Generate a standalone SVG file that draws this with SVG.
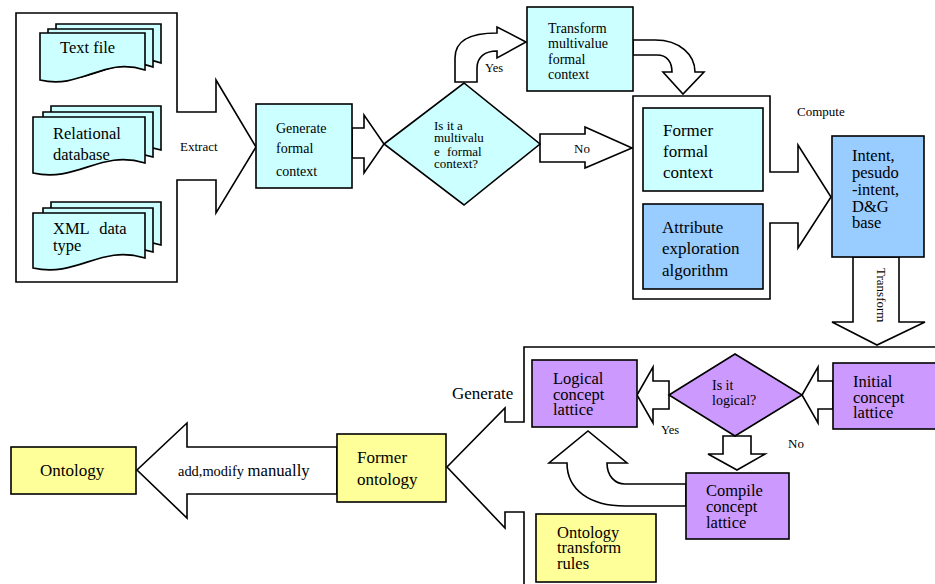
<svg xmlns="http://www.w3.org/2000/svg" width="935" height="584" viewBox="0 0 935 584">
<style>
.s{stroke:#000;stroke-width:1.6;stroke-linejoin:miter}
.w{fill:#fff}
.c1{fill:#CCFFFF}
.c2{fill:#99CCFF}
.c3{fill:#CC99FF}
.c4{fill:#FFFF99}
text{fill:#000}
.f17{font-size:17px}
.f16{font-size:16.5px}
.f14{font-size:14px}
.f13{font-size:13px}
.f12{font-size:12.5px}
</style>
<rect x="0" y="0" width="935" height="584" fill="#fff"/>
<g font-family="'Liberation Serif', 'DejaVu Serif', 'Times New Roman', serif">
<g id="connectors">
  <polygon class="s w" points="16,13 177,13 177,112 216,112 216,80 256,147 216,213 216,180 177,180 177,282 16,282"/>
  <text class="f13" x="180" y="151">Extract</text>
  <polygon class="s w" points="352,128 364,128 364,115 384,144 364,173 364,158 352,158"/>
  <polygon class="s w" points="540,134 585,134 585,127 632,148 585,168 585,162 540,162"/>
  <text class="f13" x="574" y="153">No</text>
  <path class="s w" d="M455,82 L455,58 C455,40 470,33 497,33 L497,27 L526,42 L497,58 L497,51 C485,51 477,57 477,68 L477,82 Z"/>
  <text class="f12" x="485" y="72">Yes</text>
  <path class="s w" d="M633,40 L655,40 C680,40 695,55 695,72 L704,72 L683,94 L663,72 L672,72 C672,62 667,55 657,55 L633,55 Z"/>
  <polygon class="s w" points="633,96 770,96 770,172 798,172 798,145 831,197 798,248 798,223 770,223 770,299 633,299"/>
  <text class="f13" x="797" y="116">Compute</text>
  <polygon class="s w" points="853,257 899,257 899,322 925,322 877,345 832,322 853,322"/>
  <text class="f13" transform="translate(877,268) rotate(90)">Transform</text>
  <path class="s" fill="none" d="M940,347 L524,347 L524,422 L505,422 L505,408 L447,467 L505,528 L505,512 L524,512 L524,590"/>
  <text class="f17" x="452" y="399">Generate</text>
  <polygon class="s w" points="833,381 818,381 818,367 802,395 818,423 818,409 833,409"/>
  <polygon class="s w" points="669,381 653,381 653,367 637,395 653,423 653,409 669,409"/>
  <text class="f12" x="661" y="434">Yes</text>
  <polygon class="s w" points="723,436 751,436 751,454 765,454 737,470 708,454 723,454"/>
  <text class="f13" x="788" y="448">No</text>
  <path class="s w" d="M686,506 L625,506 C590,506 567,490 567,463 L549,463 L588,431 L627,463 L607,463 C607,476 615,484 625,484 L686,484 Z"/>
  <polygon class="s w" points="337,447 187,447 187,423 137,470 187,518 187,494 337,494"/>
  <text x="178" y="476"><tspan style="font-size:14.4px">add,modify </tspan><tspan style="font-size:16.7px">manually</tspan></text>
</g>

<g id="text-file">
  <path class="s c1" d="M56,24 H161 V63 C124,49 98,83 56,73 Z"/>
  <path class="s c1" d="M48,29 H153 V67 C116,53 90,87 48,77 Z"/>
  <path class="s c1" d="M40,33 H145 V70 C103,56 82,90 40,80 Z"/>
  <text class="f16" x="60" y="53">Text file</text>
</g>
<g id="relational-db">
  <path class="s c1" d="M51,106 H161 V150 C117,136 95,170 51,160 Z"/>
  <path class="s c1" d="M43,112 H153 V157 C109,143 87,177 43,167 Z"/>
  <path class="s c1" d="M33,117 H145 V163 C100,149 78,183 33,173 Z"/>
  <text class="f16" x="53" y="139">Relational</text>
  <text class="f16" x="53" y="160">database</text>
</g>
<g id="xml-data">
  <path class="s c1" d="M51,202 H161 V245 C117,231 95,265 51,255 Z"/>
  <path class="s c1" d="M43,208 H153 V252 C109,238 87,272 43,262 Z"/>
  <path class="s c1" d="M33,213 H145 V258 C100,244 78,278 33,268 Z"/>
  <text class="f16" x="53" y="234" word-spacing="6">XML data</text>
  <text class="f16" x="53" y="251">type</text>
</g>
<g id="generate-formal-context">
  <rect class="s c1" x="256" y="104" width="96" height="84"/>
  <text class="f14" x="276" y="133">Generate</text>
  <text class="f14" x="276" y="153">formal</text>
  <text class="f14" x="276" y="176">context</text>
</g>
<g id="is-multivalue">
  <polygon class="s c1" points="384,144 464,83 540,144 464,205"/>
  <text style="font-size:13px" x="434" y="130">Is it a</text>
  <text style="font-size:13px" x="434" y="142">multivalu</text>
  <text style="font-size:13px" x="434" y="156" word-spacing="4">e formal</text>
  <text style="font-size:13px" x="434" y="168">context?</text>
</g>
<g id="transform-multivalue">
  <rect class="s c1" x="527" y="7" width="106" height="84"/>
  <text class="f14" x="548" y="33">Transform</text>
  <text class="f14" x="548" y="48">multivalue</text>
  <text class="f14" x="548" y="64">formal</text>
  <text class="f14" x="548" y="79">context</text>
</g>
<g id="former-formal-context">
  <rect class="s c1" x="643" y="108" width="120" height="83"/>
  <text class="f17" x="663" y="136">Former</text>
  <text class="f17" x="663" y="157">formal</text>
  <text class="f17" x="663" y="178">context</text>
</g>
<g id="attribute-exploration">
  <rect class="s c2" x="643" y="204" width="120" height="85"/>
  <text class="f17" x="662" y="233">Attribute</text>
  <text class="f17" x="662" y="254">exploration</text>
  <text class="f17" x="662" y="276">algorithm</text>
</g>
<g id="intent-base">
  <rect class="s c2" x="832" y="136" width="92" height="121"/>
  <text class="f16" x="852" y="161">Intent,</text>
  <text class="f16" x="852" y="178">pesudo</text>
  <text class="f16" x="852" y="195">-intent,</text>
  <text class="f16" x="852" y="212">D&amp;G</text>
  <text class="f16" x="852" y="228">base</text>
</g>
<g id="initial-lattice">
  <rect class="s c3" x="833" y="363" width="110" height="66"/>
  <text class="f16" x="853" y="387">Initial</text>
  <text class="f16" x="853" y="403">concept</text>
  <text class="f16" x="853" y="418">lattice</text>
</g>
<g id="is-logical">
  <polygon class="s c3" points="669,395 735,354 802,395 735,436"/>
  <text style="font-size:14px" x="712" y="390">Is it</text>
  <text style="font-size:14px" x="712" y="405">logical?</text>
</g>
<g id="logical-lattice">
  <rect class="s c3" x="532" y="360" width="105" height="67"/>
  <text class="f16" x="553" y="384">Logical</text>
  <text class="f16" x="553" y="400">concept</text>
  <text class="f16" x="553" y="415">lattice</text>
</g>
<g id="compile-lattice">
  <rect class="s c3" x="686" y="473" width="103" height="66"/>
  <text class="f16" x="706" y="496">Compile</text>
  <text class="f16" x="706" y="512">concept</text>
  <text class="f16" x="706" y="528">lattice</text>
</g>
<g id="ontology-rules">
  <rect class="s c4" x="536" y="514" width="120" height="68"/>
  <text class="f16" x="557" y="538">Ontology</text>
  <text class="f16" x="557" y="553">transform</text>
  <text class="f16" x="557" y="569">rules</text>
</g>
<g id="former-ontology">
  <rect class="s c4" x="337" y="434" width="109" height="68"/>
  <text class="f17" x="357" y="463">Former</text>
  <text class="f17" x="357" y="485">ontology</text>
</g>
<g id="ontology">
  <rect class="s c4" x="11" y="447" width="125" height="47"/>
  <text class="f17" x="40" y="476">Ontology</text>
</g>
</g>
</svg>
